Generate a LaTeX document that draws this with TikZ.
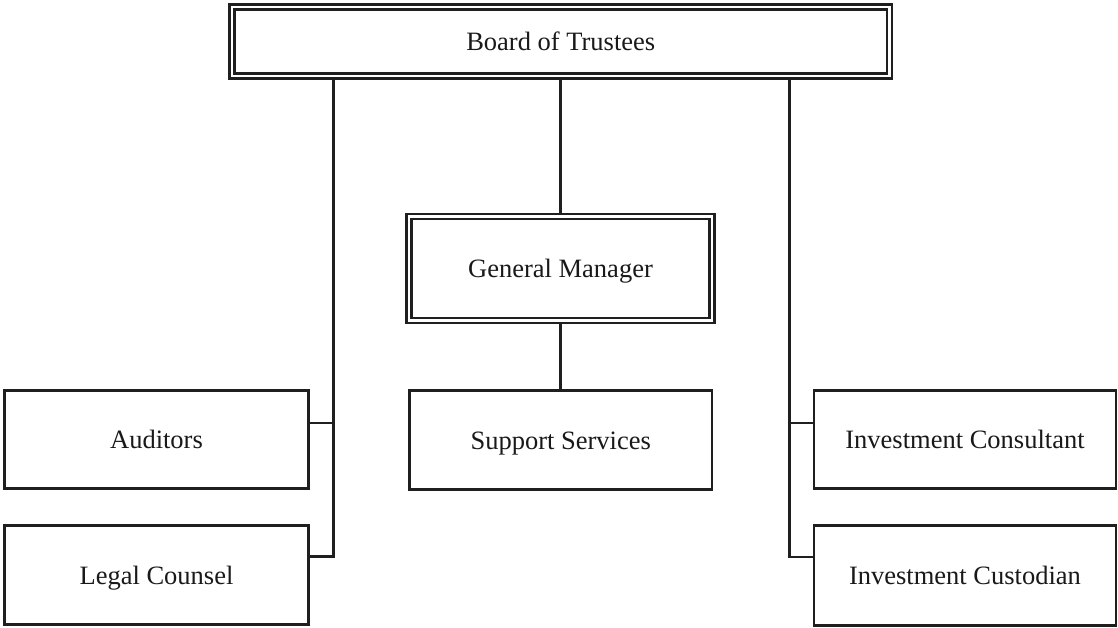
\documentclass[tikz,border=0pt]{standalone}
\usepackage{fontspec}
\setmainfont{Liberation Serif}
\begin{document}
\begin{tikzpicture}[x=1pt,y=-1pt,
  every node/.style={font=\fontsize{26.5}{31}\selectfont, text=black!90},
  box/.style={draw=black!88, line width=2.7pt, fill=white, inner sep=0pt, align=center, text height=18pt, text depth=0pt},
  dbox/.style={box, double=white, double distance=2.3pt, outer sep=3.85pt},
  conn/.style={draw=black!88, line width=2.7pt}]
\useasboundingbox (0,0) rectangle (1118,627);
\node[dbox, minimum width=657.5pt, minimum height=69pt] (board) at (560.75,41.5) {Board of Trustees};
\node[dbox, minimum width=303pt, minimum height=104pt] (gm) at (560.5,268.5) {General Manager};
\node[box, minimum width=302.5pt, minimum height=99pt] (ss) at (560.75,440) {Support Services};
\node[box, minimum width=304pt, minimum height=98pt] (aud) at (156.5,439.5) {Auditors};
\node[box, minimum width=304pt, minimum height=99.5pt] (leg) at (156.5,575) {Legal Counsel};
\node[box, minimum width=302pt, minimum height=98pt] (icons) at (965,439.5) {Investment Consultant};
\node[box, minimum width=302pt, minimum height=100pt] (icust) at (965,575.5) {Investment Custodian};
\coordinate (lj1) at (333.3,423);
\coordinate (lj2) at (333.3,556.3);
\coordinate (rj1) at (789.5,423);
\coordinate (rj2) at (789.5,557);
\draw[conn] (board.south -| lj1) -- (lj2) -- (lj2 -| leg.east);
\draw[conn] (lj1) -- (lj1 -| aud.east);
\draw[conn] (board.south -| rj1) -- (rj2) -- (rj2 -| icust.west);
\draw[conn] (rj1) -- (rj1 -| icons.west);
\draw[conn] (board.south -| gm.north) -- (gm.north);
\draw[conn] (gm.south) -- (gm.south |- ss.north);
\end{tikzpicture}
\end{document}
